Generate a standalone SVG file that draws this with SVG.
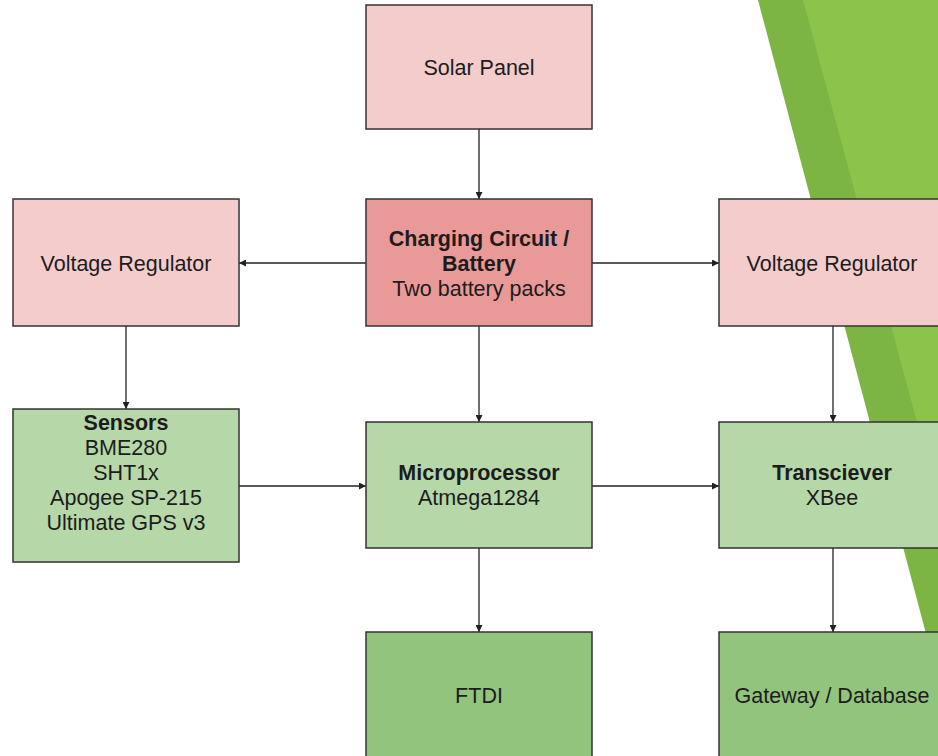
<svg xmlns="http://www.w3.org/2000/svg" width="938" height="756" viewBox="0 0 938 756">
<style>
.box{stroke:#333;stroke-width:1.5}
.pink{fill:#f4cccc}
.red{fill:#ea9999}
.lg{fill:#b6d7a8}
.mg{fill:#93c47d}
text{font-family:"Liberation Sans",Arial,sans-serif;font-size:21.5px;fill:#1c1c1c;text-anchor:middle}
.b{font-weight:bold}
.conn line{stroke:#222;stroke-width:1.3;fill:none}
</style>
<defs>
<marker id="ah" viewBox="0 0 10 10" refX="10" refY="5" markerWidth="7" markerHeight="7" markerUnits="userSpaceOnUse" orient="auto">
<path d="M0,0 L10,5 L0,10 z" fill="#222"/>
</marker>
</defs>
<rect width="938" height="756" fill="#fff"/>
<g id="decor">
<polygon points="758,0 938,0 938,679" fill="#7db544"/>
<polygon points="803,0 938,0 938,500" fill="#8cc34b"/>
</g>
<g class="conn">
<line x1="479" y1="129" x2="479" y2="199" marker-end="url(#ah)"/>
<line x1="366" y1="263" x2="239" y2="263" marker-end="url(#ah)"/>
<line x1="592" y1="263" x2="719" y2="263" marker-end="url(#ah)"/>
<line x1="479" y1="326" x2="479" y2="422" marker-end="url(#ah)"/>
<line x1="126" y1="326" x2="126" y2="409" marker-end="url(#ah)"/>
<line x1="833" y1="326" x2="833" y2="422" marker-end="url(#ah)"/>
<line x1="239" y1="486" x2="366" y2="486" marker-end="url(#ah)"/>
<line x1="592" y1="486" x2="719" y2="486" marker-end="url(#ah)"/>
<line x1="479" y1="548" x2="479" y2="632" marker-end="url(#ah)"/>
<line x1="833" y1="548" x2="833" y2="632" marker-end="url(#ah)"/>
</g>
<g id="solar">
<rect class="box pink" x="366" y="5" width="226" height="124"/>
<text x="479" y="75">Solar Panel</text>
</g>
<g id="charging">
<rect class="box red" x="366" y="199" width="226" height="127"/>
<text class="b" x="479" y="246">Charging Circuit /</text>
<text class="b" x="479" y="271">Battery</text>
<text x="479" y="296">Two battery packs</text>
</g>
<g id="vreg-left">
<rect class="box pink" x="13" y="199" width="226" height="127"/>
<text x="126" y="271">Voltage Regulator</text>
</g>
<g id="vreg-right">
<rect class="box pink" x="719" y="199" width="226" height="127"/>
<text x="832" y="271">Voltage Regulator</text>
</g>
<g id="sensors">
<rect class="box lg" x="13" y="409" width="226" height="153"/>
<text class="b" x="126" y="430">Sensors</text>
<text x="126" y="455">BME280</text>
<text x="126" y="480">SHT1x</text>
<text x="126" y="505">Apogee SP-215</text>
<text x="126" y="530">Ultimate GPS v3</text>
</g>
<g id="micro">
<rect class="box lg" x="366" y="422" width="226" height="126"/>
<text class="b" x="479" y="480">Microprocessor</text>
<text x="479" y="505">Atmega1284</text>
</g>
<g id="transceiver">
<rect class="box lg" x="719" y="422" width="226" height="126"/>
<text class="b" x="832" y="480">Transciever</text>
<text x="832" y="505">XBee</text>
</g>
<g id="ftdi">
<rect class="box mg" x="366" y="632" width="226" height="130"/>
<text x="479" y="703">FTDI</text>
</g>
<g id="gateway">
<rect class="box mg" x="719" y="632" width="226" height="130"/>
<text x="832" y="703">Gateway / Database</text>
</g>
</svg>
